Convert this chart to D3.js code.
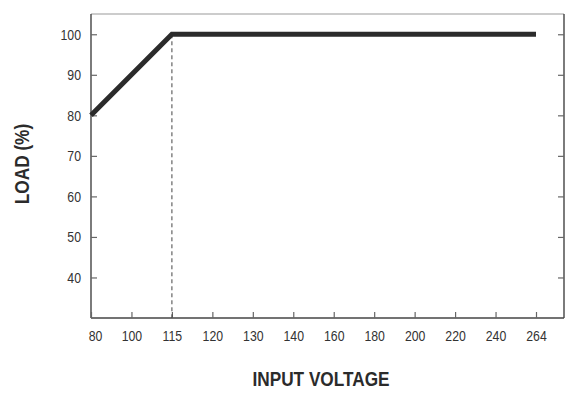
<!DOCTYPE html>
<html>
<head>
<meta charset="utf-8">
<script src="https://cdn.jsdelivr.net/npm/d3@7"></script>
<style>
  body { margin: 0; background: #fff; }
  .tick text { font-family: "Liberation Sans", Arial, sans-serif; font-size: 15px; fill: #333; }
  .title { font-family: "Liberation Sans", Arial, sans-serif; font-size: 21px; font-weight: bold; fill: #2b2b2b; }
</style>
</head>
<body>
<div id="chart"></div>
<script>
// input voltage categories (evenly spaced on the axis)
const voltages = ["80", "100", "115", "120", "130", "140", "160", "180", "200", "220", "240", "264"];
const loadTicks = [40, 50, 60, 70, 80, 90, 100];
// derating curve
const curveV = ["80", "115", "264"];
const curveLoad = [80, 100, 100];
const kneeV = "115";

const W = 583, H = 397;
const box = {left: 91, right: 564, top: 14, bottom: 318};
const narrow = 0.82; // squeeze text to look like a condensed face

const svg = d3.select("#chart").append("svg")
    .attr("width", W)
    .attr("height", H);

const x = d3.scalePoint()
    .domain(voltages)
    .range([box.left, 536]);

const y = d3.scaleLinear()
    .domain([30, 105])
    .range([box.bottom, box.top]);

// move x/y into a transform so the text can be squeezed horizontally
function squeeze(sel) {
  sel.each(function() {
    const t = d3.select(this);
    const tx = +t.attr("x") || 0, ty = +t.attr("y") || 0;
    t.attr("x", 0).attr("y", 0)
      .attr("transform", `translate(${tx},${ty}) scale(${narrow},1)`);
  });
}

// top border
svg.append("line")
    .attr("x1", box.left).attr("x2", box.right)
    .attr("y1", box.top).attr("y2", box.top)
    .attr("stroke", "#999").attr("stroke-width", 1.2);

// left axis
svg.append("g")
    .attr("transform", `translate(${box.left},0)`)
    .call(d3.axisLeft(y).tickValues(loadTicks).tickSizeInner(-6).tickSizeOuter(0).tickPadding(10))
    .call(g => g.select(".domain").attr("d", `M0,${box.top}V${box.bottom}`))
    .call(g => g.selectAll(".tick text").call(squeeze));

// right axis (ticks only)
svg.append("g")
    .attr("transform", `translate(${box.right},0)`)
    .call(d3.axisRight(y).tickValues(loadTicks).tickSizeInner(-6).tickSizeOuter(0).tickFormat(""))
    .call(g => g.select(".domain").attr("d", `M0,${box.top}V${box.bottom}`));

// bottom axis
svg.append("g")
    .attr("transform", `translate(0,${box.bottom})`)
    .call(d3.axisBottom(x).tickSizeInner(-6).tickSizeOuter(0).tickPadding(12))
    .call(g => g.select(".domain").attr("d", `M${box.left},0H${box.right}`))
    .call(g => g.selectAll(".tick text").filter(d => d === "80").attr("x", 4))
    .call(g => g.selectAll(".tick text").call(squeeze));

svg.selectAll(".domain").attr("stroke", "#444").attr("stroke-width", 1.4);
svg.selectAll(".tick line").attr("stroke", "#666").attr("stroke-width", 1.2);

// dashed marker at the knee
svg.append("line")
    .attr("x1", x(kneeV)).attr("x2", x(kneeV))
    .attr("y1", y(100)).attr("y2", box.bottom)
    .attr("stroke", "#444").attr("stroke-width", 1)
    .attr("stroke-dasharray", "4,3");

// curve
const pts = curveV.map((v, i) => [x(v), y(curveLoad[i])]);
svg.append("path")
    .attr("d", d3.line()(pts))
    .attr("fill", "none")
    .attr("stroke", "#2b2b2b")
    .attr("stroke-width", 5);

// axis titles
svg.append("text")
    .attr("class", "title")
    .attr("transform", `translate(321,386) scale(${narrow},1)`)
    .attr("text-anchor", "middle")
    .text("INPUT VOLTAGE");

svg.append("text")
    .attr("class", "title")
    .attr("transform", `translate(29,164) rotate(-90) scale(${narrow},1)`)
    .attr("text-anchor", "middle")
    .text("LOAD (%)");
</script>
</body>
</html>
